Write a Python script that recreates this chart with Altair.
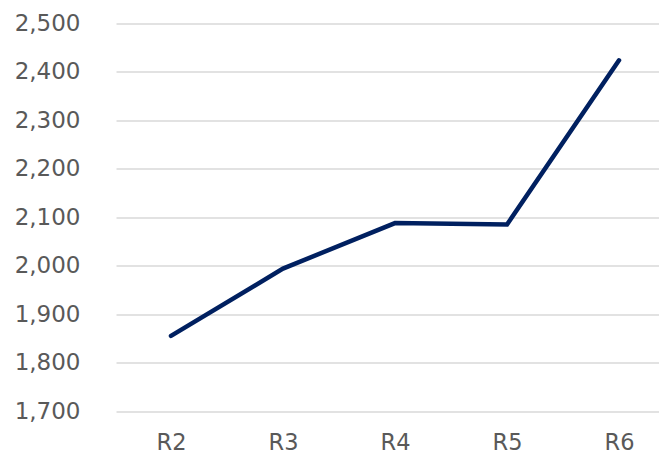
import altair as alt
import pandas as pd

rounds = ["R2", "R3", "R4", "R5", "R6"]
values = [1855, 1994, 2088, 2085, 2424]

df = pd.DataFrame({"round": rounds, "value": values})

FONT = "DejaVu Sans"
GRAY = "#595959"

chart = alt.Chart(df).mark_line(
    color="#002060", strokeWidth=4.5, strokeCap="round", strokeJoin="miter"
).encode(
    x=alt.X("round:N", sort=rounds, title=None,
            scale=alt.Scale(type="point", padding=0.424, align=0.579),
            axis=alt.Axis(labelAngle=0, domain=False, ticks=False, grid=False,
                          labelFont=FONT, labelFontSize=22.5, labelColor=GRAY,
                          labelPadding=20)),
    y=alt.Y("value:Q", title=None,
            scale=alt.Scale(domain=[1700, 2500], nice=False, zero=False),
            axis=alt.Axis(values=list(range(1700, 2501, 100)), format=",.0f",
                          domain=False, ticks=False, grid=True,
                          gridColor="#d9d9d9", gridWidth=1.5,
                          labelFont=FONT, labelFontSize=23, labelColor=GRAY,
                          labelPadding=36)),
).properties(
    width=543, height=387.5,
    autosize=alt.AutoSizeParams(type="none"),
    padding={"left": 108, "top": 15.5, "right": 0, "bottom": 44},
).configure_view(stroke=None)

chart.save("out.html", embed_options={"renderer": "svg", "actions": False})
